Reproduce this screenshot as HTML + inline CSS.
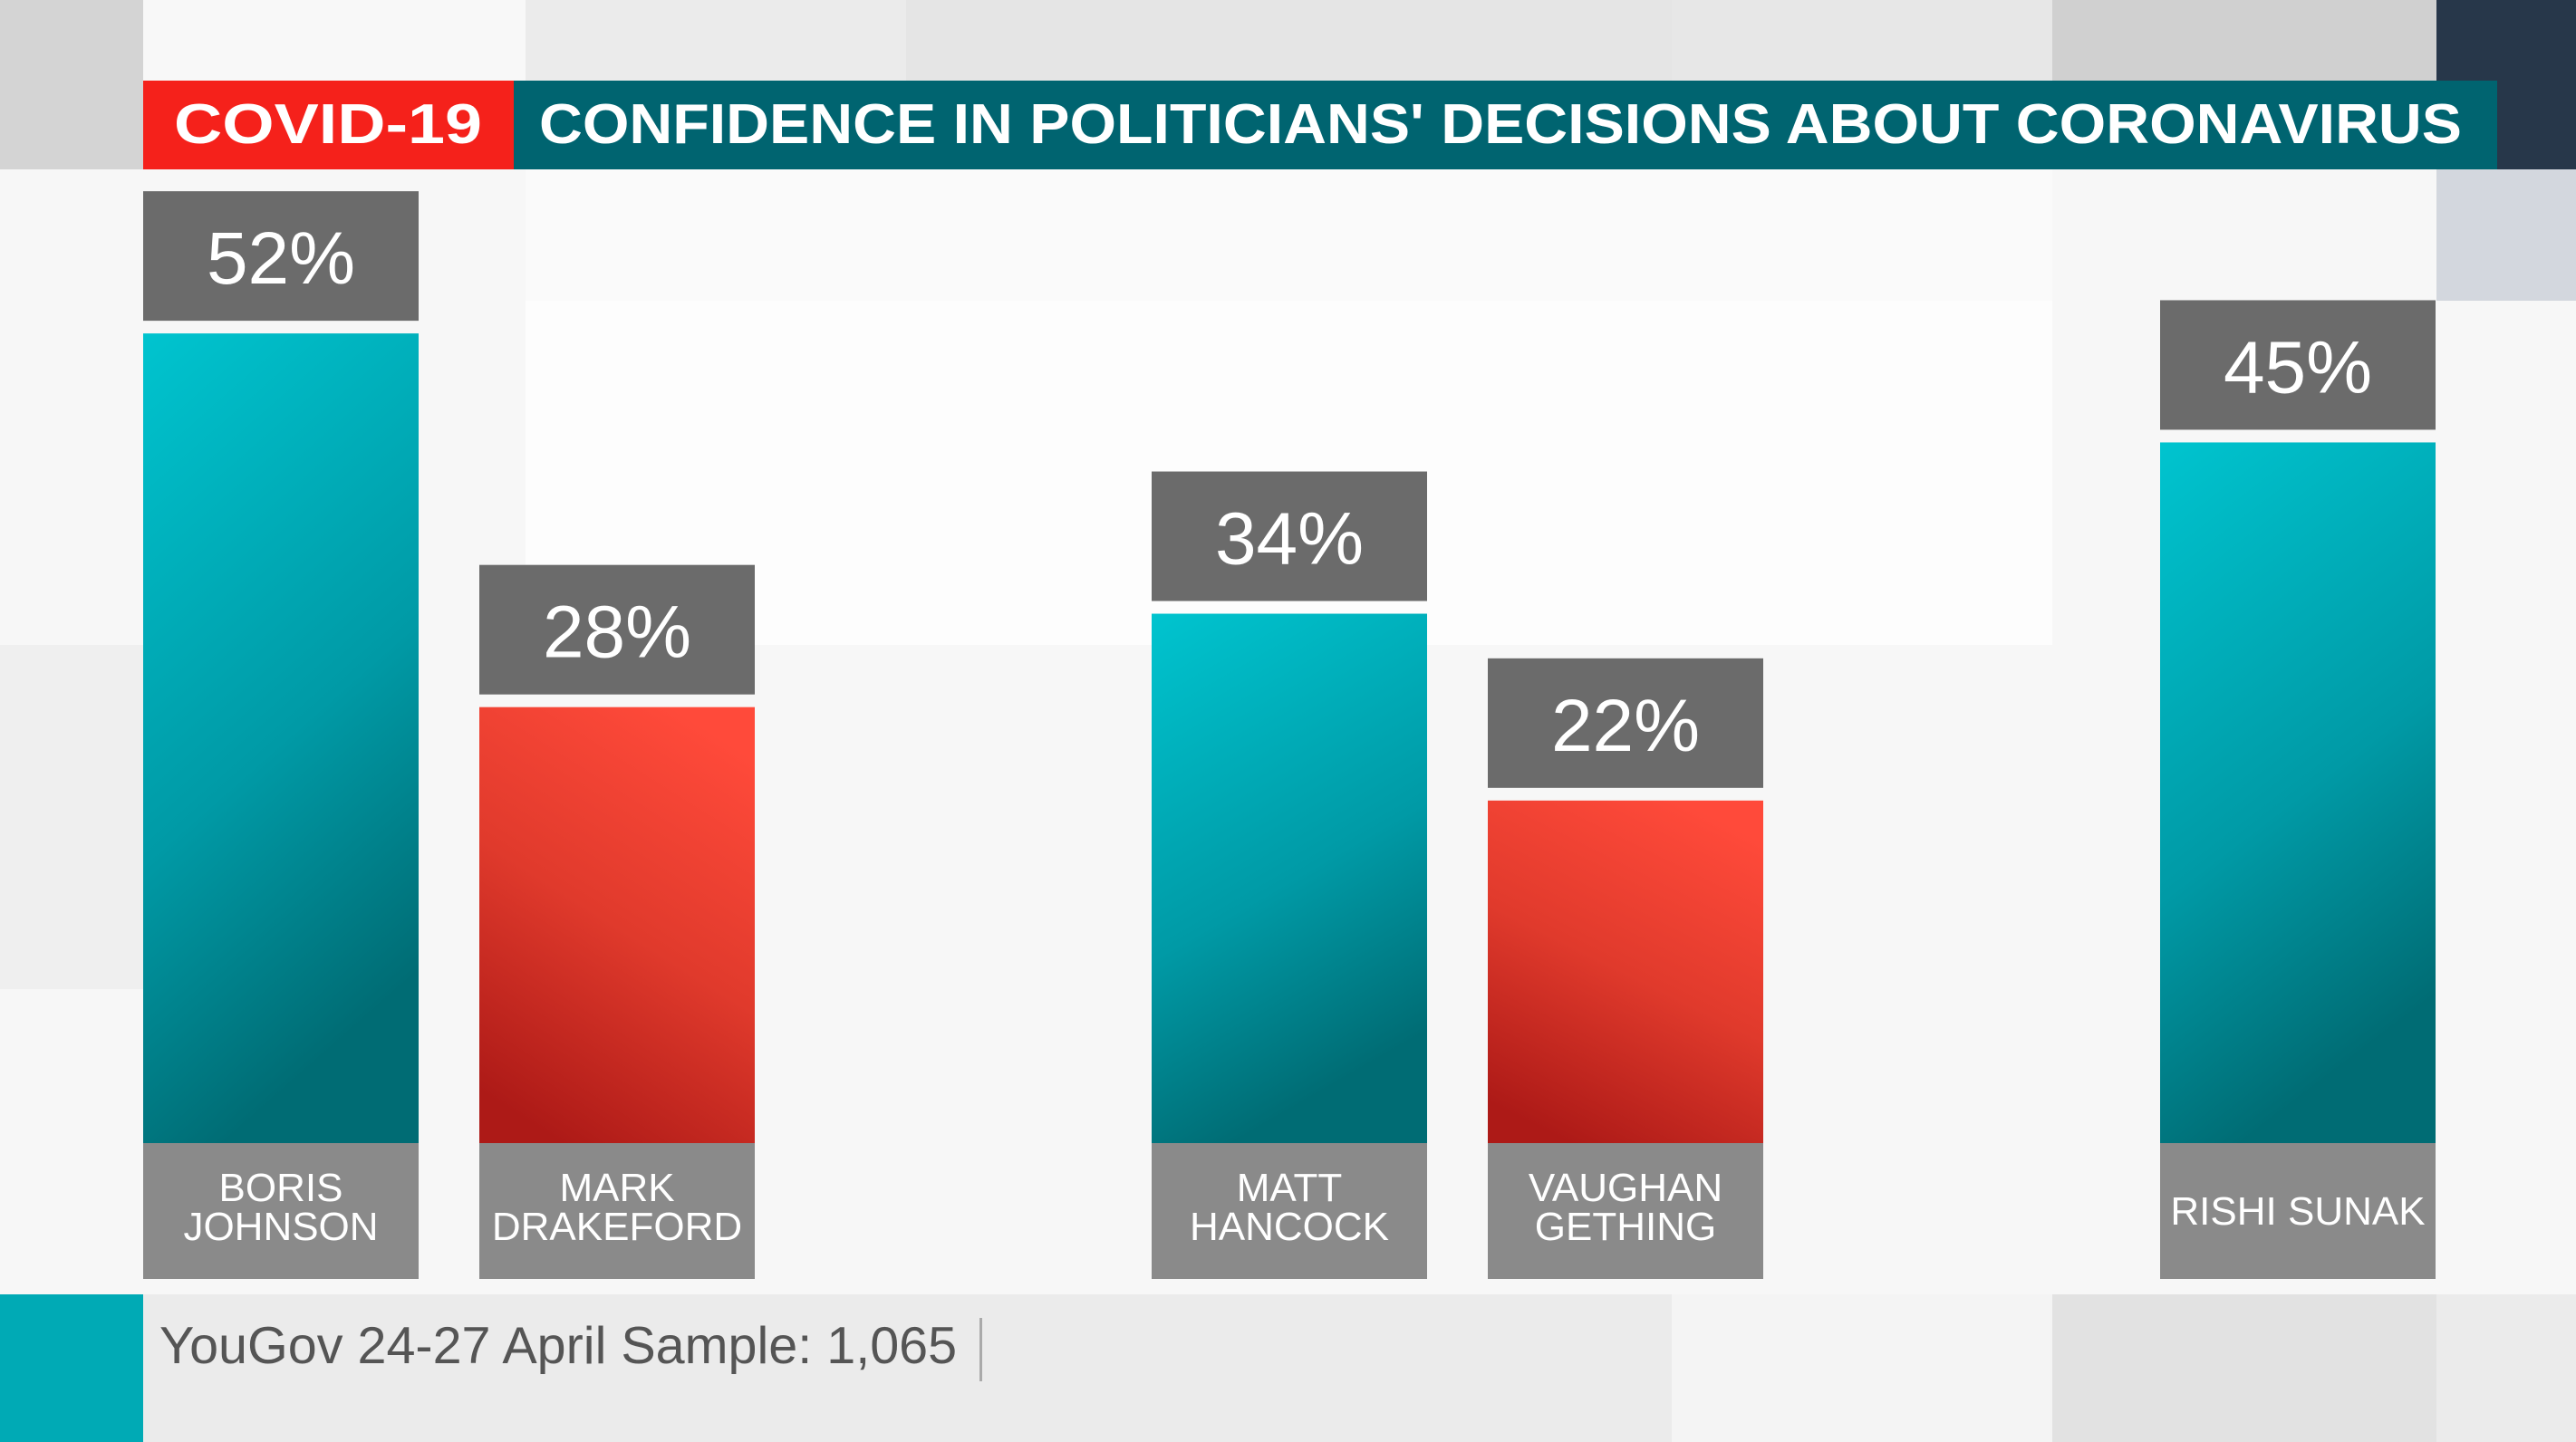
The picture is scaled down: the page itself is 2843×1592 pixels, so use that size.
<!DOCTYPE html>
<html><head><meta charset="utf-8"><style>
html,body{margin:0;padding:0;width:2843px;height:1592px;overflow:hidden;background:#f7f7f7}
svg{display:block}
text{font-family:"Liberation Sans",sans-serif}
</style></head><body>
<svg id="chart" width="2843" height="1592" viewBox="0 0 2843 1592" xmlns="http://www.w3.org/2000/svg">
<defs>
<linearGradient id="tealG" x1="0" y1="0" x2="0.3" y2="1"><stop offset="0" stop-color="#00c4cf"/><stop offset="0.6" stop-color="#009aa6"/><stop offset="1" stop-color="#006c74"/></linearGradient>
<linearGradient id="redG" x1="0.7" y1="0" x2="0.3" y2="1"><stop offset="0" stop-color="#ff4a3a"/><stop offset="0.5" stop-color="#e03a2c"/><stop offset="1" stop-color="#ad1a17"/></linearGradient>
</defs>
<g>
<rect x="0" y="0" width="2843" height="1592" fill="#f7f7f7"/>
<rect x="0" y="0" width="158" height="187" fill="#d4d4d4"/>
<rect x="158" y="0" width="422" height="187" fill="#f8f8f8"/>
<rect x="580" y="0" width="420" height="187" fill="#ebebeb"/>
<rect x="1000" y="0" width="845" height="187" fill="#e5e5e5"/>
<rect x="1845" y="0" width="420" height="187" fill="#e7e7e7"/>
<rect x="2265" y="0" width="424" height="187" fill="#d0d0d0"/>
<rect x="2689" y="0" width="154" height="187" fill="#27374a"/>
<rect x="2689" y="187" width="154" height="145" fill="#d3d7de"/>
<rect x="580" y="187" width="1685" height="145" fill="#fafafa"/>
<rect x="580" y="332" width="1685" height="380" fill="#fdfdfd"/>
<rect x="0" y="712" width="158" height="380" fill="#efefef"/>
<rect x="0" y="1429" width="2843" height="163" fill="#ebebeb"/>
<rect x="1845" y="1429" width="420" height="163" fill="#f4f4f4"/>
<rect x="2265" y="1429" width="424" height="163" fill="#e2e2e2"/>
<rect x="0" y="1429" width="158" height="163" fill="#00aab5"/>
</g>
<g>
<rect x="158" y="89" width="409" height="98" fill="#f5211b"/>
<rect x="567" y="89" width="2189" height="98" fill="#006470"/>
<text x="362" y="158" text-anchor="middle" font-size="62" font-weight="bold" fill="#fff" textLength="340" lengthAdjust="spacingAndGlyphs">COVID-19</text>
<text x="595" y="158" font-size="62" font-weight="bold" fill="#fff" textLength="2122" lengthAdjust="spacingAndGlyphs">CONFIDENCE IN POLITICIANS' DECISIONS ABOUT CORONAVIRUS</text>
</g>
<g id="bars"></g>
<g>
<text x="176" y="1505" font-size="57.5" fill="#555">YouGov 24-27 April Sample: 1,065</text>
<rect x="1081" y="1455" width="3" height="70" fill="#aaa"/>
</g>
</svg>
<script>
const names = [["BORIS","JOHNSON"],["MARK","DRAKEFORD"],["MATT","HANCOCK"],["VAUGHAN","GETHING"],["RISHI SUNAK"]];
const values = [52, 28, 34, 22, 45];
const parties = ["con","lab","con","lab","con"];
const slots = [0, 1, 3, 4, 6];
const NS = "http://www.w3.org/2000/svg";
const g = document.getElementById('bars');
const x0 = 158, step = 371, bw = 304;
const base = 1262, perPct = 17.19;
function xPos(s){ return x0 + s*step; }
function yPos(v){ return base - v*perPct; }
function mk(tag, attrs){ const e=document.createElementNS(NS,tag); for(const k in attrs) e.setAttribute(k,attrs[k]); g.appendChild(e); return e; }
values.forEach((v,i)=>{
  const x = xPos(slots[i]), y = yPos(v);
  const bar = mk('rect',{x:x,y:y,width:bw,height:base-y,fill:parties[i]==='con'?'url(#tealG)':'url(#redG)'});
  
  
  const lb = mk('rect',{x:x,y:y-157,width:bw,height:143,fill:'#6b6b6b'});
  
  
  const lt = mk('text',{x:x+bw/2,y:y-55,'text-anchor':'middle','font-size':82,'font-weight':500,fill:'#fff'});
  lt.textContent = v+'%';
  
  
  const nb = mk('rect',{x:x,y:base,width:bw,height:150,fill:'#8a8a8a'});
  
  
  const lines = names[i];
  lines.forEach((ln,j)=>{
    const ty = lines.length===1 ? base+90 : base+64+j*43;
    const nt = mk('text',{x:x+bw/2,y:ty,'text-anchor':'middle','font-size':44,fill:'#fff'});
    nt.textContent = ln;
    
    
  });
});
</script>
</body></html>
